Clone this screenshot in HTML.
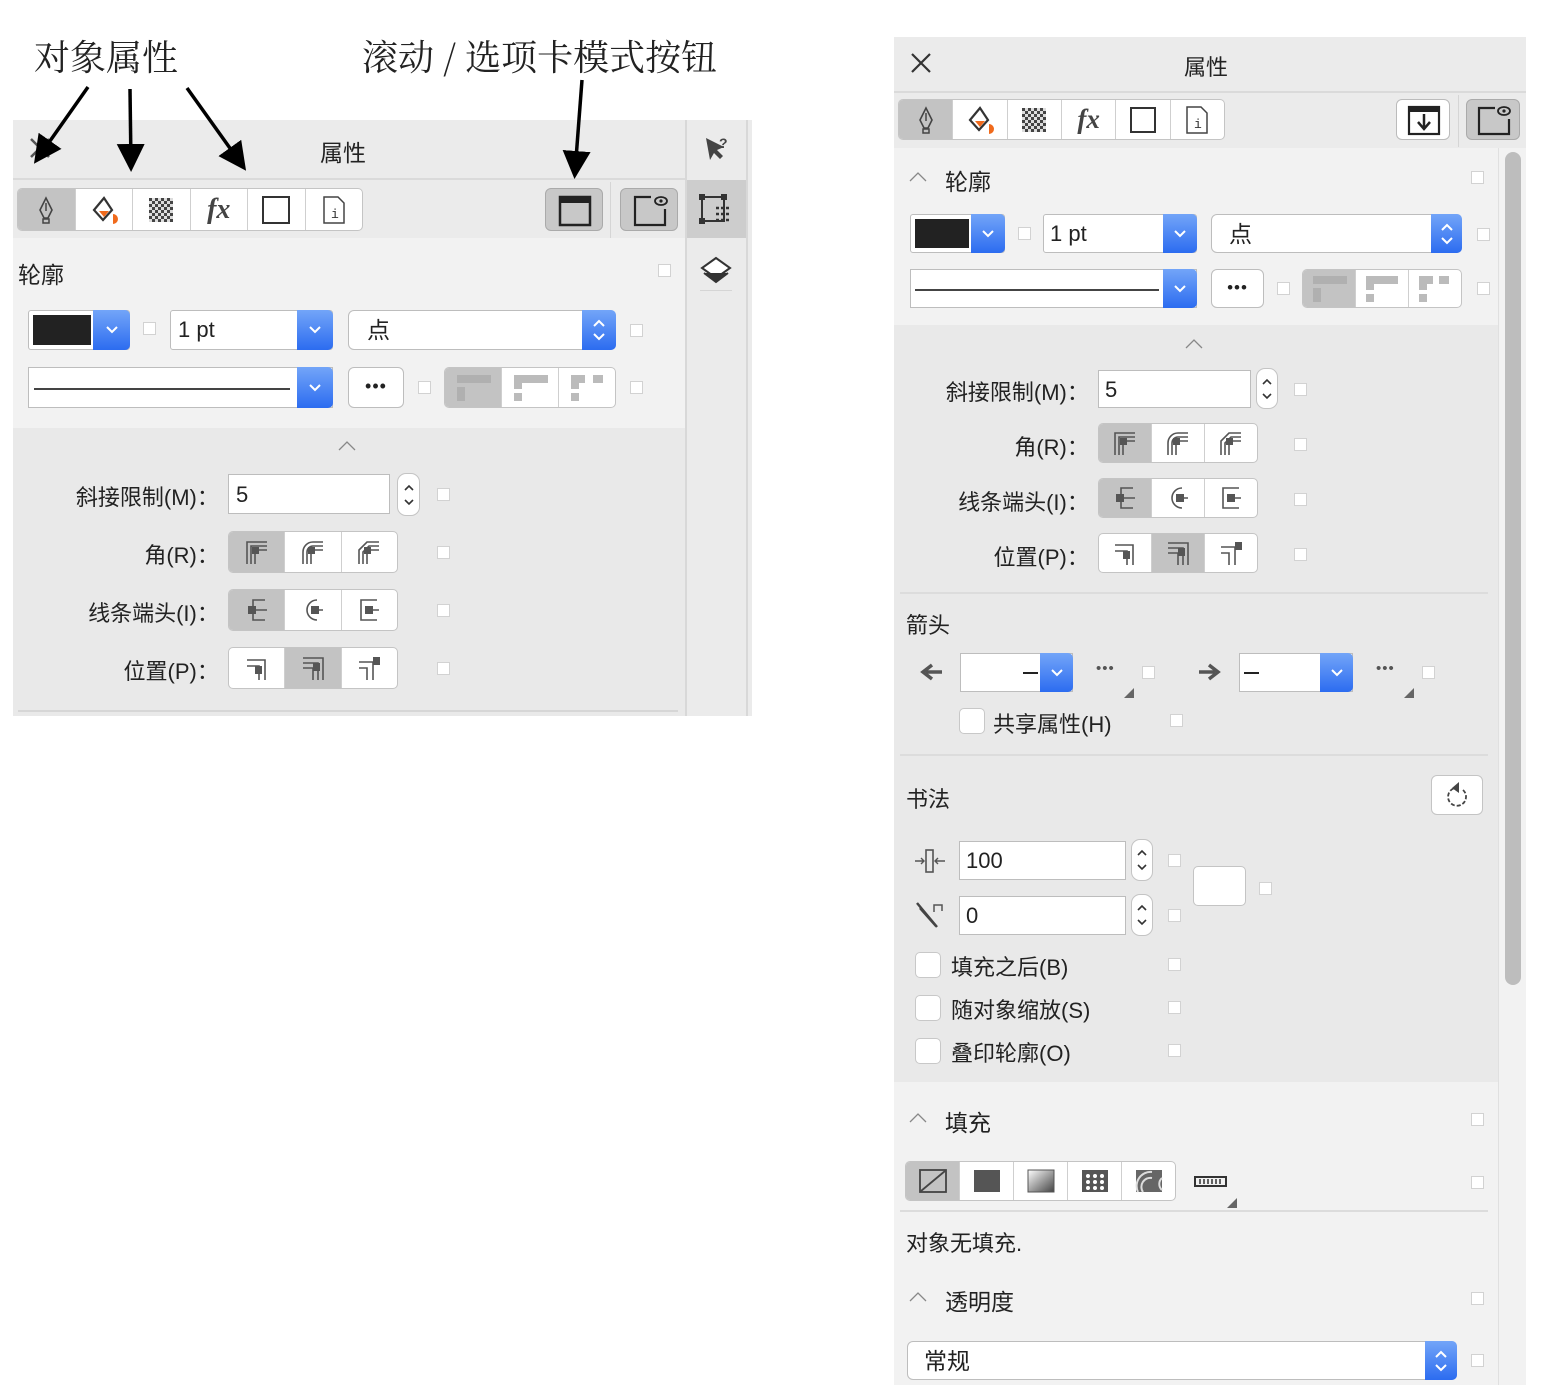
<!DOCTYPE html>
<html><head><meta charset="utf-8">
<style>
*{box-sizing:border-box;margin:0;padding:0}
body{width:1541px;height:1395px;background:#fff;position:relative;overflow:hidden;font-family:"Liberation Sans","Noto Sans CJK SC",sans-serif;color:#222}
.a{position:absolute}
.chk{position:absolute;width:13px;height:13px;background:#fff;border:1px solid #d2d2d2}
.box{position:absolute;background:#fff;border:1px solid #bdbdbd;border-radius:3px}
.blue{position:absolute;top:-1px;bottom:-1px;right:-1px;background:linear-gradient(#73a5f8,#2c6cf0);border-radius:0 5px 5px 0;display:flex;align-items:center;justify-content:center}
.seg{position:absolute;background:#fff;border:1px solid #c4c4c4;border-radius:5px;display:flex;overflow:hidden}
.seg>div{flex:1;border-left:1px solid #cfcfcf;display:flex;align-items:center;justify-content:center}
.seg>div:first-child{border-left:none}
.seg>.on{background:#c3c3c3}
.lbl{position:absolute;font-size:21px;white-space:nowrap}
.rlbl{position:absolute;font-size:22px;white-space:pre;text-align:right}
.spin{position:absolute;background:#fff;border:1px solid #c4c4c4;border-radius:9px;display:flex;align-items:center;justify-content:center}
.cb{position:absolute;width:26px;height:26px;background:#fff;border:1px solid #c8c8c8;border-radius:5px}
.hline{position:absolute;height:2px;background:#dcdcdc}
</style></head><body>

<div class="a" style="left:34px;top:30px;font-size:36px;font-family:'Noto Serif CJK SC','Noto Sans CJK SC',serif">对象属性</div>
<div class="a" style="left:362px;top:30px;font-size:36px;font-family:'Noto Serif CJK SC','Noto Sans CJK SC',serif">滚动 / 选项卡模式按钮</div>

<div class="a" style="left:13px;top:120px;width:739px;height:596px;background:#ebebeb"></div>
<div class="a" style="left:13px;top:178px;width:673px;height:2px;background:#dadada"></div>
<div class="a" style="left:13px;top:238px;width:673px;height:190px;background:#f2f2f2"></div>
<div class="a" style="left:13px;top:428px;width:673px;height:288px;background:#e9e9e9"></div>
<div class="a" style="left:685px;top:120px;width:2px;height:596px;background:#d8d8d8"></div>
<div class="a" style="left:746px;top:120px;width:2px;height:596px;background:#d8d8d8"></div>
<div class="a" style="left:687px;top:180px;width:59px;height:58px;background:#cdcdcd"></div>
<div class="a" style="left:700px;top:290px;width:32px;height:1px;background:#d5d5d5"></div>
<div class="a" style="left:610px;top:182px;width:1px;height:56px;background:#d5d5d5"></div>
<div class="a" style="left:320px;top:134px;font-size:23px">属性</div>
<svg class="a" style="left:28px;top:136px" width="24" height="24"><path d="M3 3L21 21M21 3L3 21" stroke="#555" stroke-width="2.5"/></svg>

<div class="seg" style="left:17px;top:188px;width:346px;height:43px">
 <div class="on"><svg width="24" height="30"><path d="M12 3L6 15l4 8h4l4-8z" fill="none" stroke="#444" stroke-width="1.6"/><path d="M12 8v8" stroke="#444" stroke-width="1.5"/><rect x="9" y="24" width="6" height="4" fill="none" stroke="#444" stroke-width="1.5"/></svg></div>
 <div><svg width="30" height="30"><path d="M15 3L5 15l9 10 9-10z" fill="none" stroke="#333" stroke-width="2.2"/><path d="M10 16h10l-5 6z" fill="#f06a1c"/><path d="M24 19a5 5 0 0 1 0 10z" fill="#f06a1c"/></svg></div>
 <div><svg width="24" height="24"><defs><pattern id="ck" width="6" height="6" patternUnits="userSpaceOnUse"><rect width="3" height="3" fill="#444"/><rect x="3" y="3" width="3" height="3" fill="#444"/><rect x="3" width="3" height="3" fill="#ddd"/><rect y="3" width="3" height="3" fill="#ddd"/></pattern></defs><rect x="0" y="0" width="24" height="24" fill="url(#ck)"/></svg></div>
 <div><span style="font-family:'Liberation Serif',serif;font-style:italic;font-size:28px;color:#444;font-weight:bold">fx</span></div>
 <div><svg width="30" height="30"><rect x="2" y="2" width="26" height="26" fill="none" stroke="#333" stroke-width="2"/></svg></div>
 <div><svg width="24" height="30"><path d="M2 2h14l6 6v20H2z" fill="none" stroke="#444" stroke-width="1.5"/><text x="9" y="23" font-size="13" font-family="Liberation Mono" fill="#333">i</text></svg></div>
</div>
<div class="a" style="left:545px;top:188px;width:58px;height:43px;background:#c8c8c8;border:1px solid #aaa;border-radius:6px"><svg width="58" height="43"><rect x="14" y="8" width="30" height="28" fill="none" stroke="#222" stroke-width="2.5"/><rect x="14" y="8" width="30" height="6" fill="#222"/></svg></div>
<div class="a" style="left:620px;top:188px;width:58px;height:43px;background:#c8c8c8;border:1px solid #aaa;border-radius:6px"><svg width="58" height="43"><path d="M30 8H14v28h30V20" fill="none" stroke="#222" stroke-width="2.2"/><ellipse cx="40" cy="12" rx="6" ry="4" fill="none" stroke="#222" stroke-width="1.8"/><circle cx="40" cy="12" r="1.6" fill="#222"/></svg></div>
<svg class="a" style="left:702px;top:134px" width="30" height="30"><path d="M4 4l4 22 4-7 6 6 3-3-6-6 7-3z" fill="#444"/><text x="17" y="14" font-size="14" font-weight="bold" fill="#444" font-family="Liberation Sans">?</text></svg>
<svg class="a" style="left:698px;top:193px" width="34" height="34"><rect x="4" y="4" width="22" height="24" fill="none" stroke="#333" stroke-width="2"/><rect x="1" y="1" width="6" height="6" fill="#333"/><rect x="23" y="1" width="6" height="6" fill="#333"/><rect x="1" y="25" width="6" height="6" fill="#333"/><path d="M18 15h14M18 21h14M18 27h14" stroke="#333" stroke-width="2.5" stroke-dasharray="3 2"/></svg>
<svg class="a" style="left:700px;top:256px" width="32" height="30"><path d="M16 2L2 12l14 10 14-10z" fill="#fff" stroke="#333" stroke-width="2"/><path d="M4 17l12 9 12-9" fill="#333" stroke="#333" stroke-width="2"/></svg>

<div class="lbl" style="left:18px;top:256px;font-size:23px">轮廓</div>
<div class="chk" style="left:658px;top:264px"></div>

<div class="box" style="left:28px;top:310px;width:102px;height:40px"><div class="a" style="left:4px;top:4px;width:58px;height:30px;background:#222"></div><div class="blue" style="width:37px"><svg width="14" height="10"><polyline points="2,2 7,7 12,2" fill="none" stroke="#fff" stroke-width="2"/></svg></div></div>
<div class="chk" style="left:143px;top:322px"></div>
<div class="box" style="left:170px;top:310px;width:163px;height:40px"><span class="a" style="left:7px;top:6px;font-size:22px">1 pt</span><div class="blue" style="width:36px"><svg width="14" height="10"><polyline points="2,2 7,7 12,2" fill="none" stroke="#fff" stroke-width="2"/></svg></div></div>
<div class="box" style="left:348px;top:310px;width:268px;height:40px;border-radius:6px"><span class="a" style="left:18px;top:0px;font-size:23px">点</span><div class="blue" style="width:34px"><svg width="14" height="26"><polyline points="2,9 7,4 12,9" fill="none" stroke="#fff" stroke-width="2"/><polyline points="2,17 7,22 12,17" fill="none" stroke="#fff" stroke-width="2"/></svg></div></div>
<div class="chk" style="left:630px;top:324px"></div>
<div class="box" style="left:28px;top:367px;width:305px;height:41px;border-radius:0"><div class="a" style="left:5px;top:20px;width:256px;height:1.5px;background:#444"></div><div class="blue" style="width:36px"><svg width="14" height="10"><polyline points="2,2 7,7 12,2" fill="none" stroke="#fff" stroke-width="2"/></svg></div></div>
<div class="box" style="left:348px;top:367px;width:56px;height:41px;border-radius:6px;text-align:center;font-size:18px;line-height:36px;letter-spacing:1px">•••</div>
<div class="chk" style="left:418px;top:381px"></div>
<div class="seg" style="left:444px;top:367px;width:172px;height:41px">
 <div style="background:#c3c3c3"><svg width="36" height="30"><rect x="2" y="2" width="34" height="8" fill="#b0b0b0"/><rect x="2" y="14" width="8" height="14" fill="#b0b0b0"/></svg></div>
 <div><svg width="36" height="30"><rect x="2" y="2" width="34" height="8" fill="#bbb"/><rect x="2" y="2" width="8" height="14" fill="#bbb"/><rect x="2" y="20" width="8" height="8" fill="#bbb"/></svg></div>
 <div><svg width="36" height="30"><rect x="2" y="2" width="14" height="8" fill="#bbb"/><rect x="24" y="2" width="10" height="8" fill="#bbb"/><rect x="2" y="2" width="8" height="14" fill="#bbb"/><rect x="2" y="20" width="8" height="8" fill="#bbb"/></svg></div>
</div>
<div class="chk" style="left:630px;top:381px"></div>

<svg class="a" style="left:337px;top:440px" width="20" height="12"><polyline points="2,10 10,2 18,10" fill="none" stroke="#888" stroke-width="1.3"/></svg>

<div class="rlbl" style="left:10px;width:215px;top:480px">斜接限制(M)： </div>
<div class="box" style="left:228px;top:474px;width:162px;height:40px;border-radius:0"><span class="a" style="left:7px;top:7px;font-size:22px">5</span></div>
<div class="spin" style="left:397px;top:473px;width:23px;height:43px"><svg width="12" height="26"><polyline points="2,8 6,4 10,8" fill="none" stroke="#333" stroke-width="1.6"/><polyline points="2,18 6,22 10,18" fill="none" stroke="#333" stroke-width="1.6"/></svg></div>
<div class="chk" style="left:437px;top:488px"></div>

<div class="rlbl" style="left:10px;width:215px;top:538px">角(R)： </div>
<div class="seg" style="left:228px;top:531px;width:170px;height:42px">
 <div class="on"><svg width="28" height="28"><path d="M4 26V4h20M8 26V8h16M12 26V12h12" fill="none" stroke="#555" stroke-width="1.6"/><rect x="9" y="9" width="7" height="7" fill="#555"/></svg></div>
 <div><svg width="28" height="28"><path d="M4 26V14a10 10 0 0 1 10-10h10M8 26V14a6 6 0 0 1 6-6h10M12 26V12h12" fill="none" stroke="#555" stroke-width="1.6"/><rect x="9" y="9" width="7" height="7" fill="#555"/></svg></div>
 <div><svg width="28" height="28"><path d="M4 26V12l8-8h12M8 26V14l6-6h10M12 26V12h12" fill="none" stroke="#555" stroke-width="1.6"/><rect x="9" y="9" width="7" height="7" fill="#555"/></svg></div>
</div>
<div class="chk" style="left:437px;top:546px"></div>

<div class="rlbl" style="left:10px;width:215px;top:596px">线条端头(I)： </div>
<div class="seg" style="left:228px;top:589px;width:170px;height:42px">
 <div class="on"><svg width="28" height="28"><path d="M22 4H10v20h12M10 14h14" fill="none" stroke="#555" stroke-width="1.6"/><rect x="5" y="10" width="8" height="8" fill="#555"/></svg></div>
 <div><svg width="28" height="28"><path d="M18 4a10 10 0 0 0 0 20M14 14h10" fill="none" stroke="#555" stroke-width="1.6"/><rect x="12" y="10" width="8" height="8" fill="#555"/></svg></div>
 <div><svg width="28" height="28"><path d="M22 4H6v20h16M10 14h14" fill="none" stroke="#555" stroke-width="1.6"/><rect x="10" y="10" width="8" height="8" fill="#555"/></svg></div>
</div>
<div class="chk" style="left:437px;top:604px"></div>

<div class="rlbl" style="left:10px;width:215px;top:654px">位置(P)： </div>
<div class="seg" style="left:228px;top:647px;width:170px;height:42px">
 <div><svg width="28" height="28"><path d="M4 6h18v20M4 12h12v14" fill="none" stroke="#555" stroke-width="1.6"/><rect x="12" y="12" width="7" height="8" fill="#555"/></svg></div>
 <div class="on"><svg width="28" height="28"><path d="M4 4h20v22M4 9h15v17M4 14h10v12" fill="none" stroke="#555" stroke-width="1.6"/><rect x="14" y="9" width="7" height="8" fill="#555"/></svg></div>
 <div><svg width="28" height="28"><path d="M4 8h14v18M4 14h8v12" fill="none" stroke="#555" stroke-width="1.6"/><rect x="18" y="3" width="7" height="8" fill="#555"/></svg></div>
</div>
<div class="chk" style="left:437px;top:662px"></div>
<div class="a" style="left:18px;top:710px;width:660px;height:2px;background:#d6d6d6"></div>

<svg class="a" style="left:0;top:0" width="760" height="200">
<defs><marker id="ah" markerWidth="8" markerHeight="8" refX="6" refY="4" orient="auto" markerUnits="strokeWidth"><path d="M0,0L8,4L0,8z" fill="#000"/></marker></defs>
<g stroke="#000" stroke-width="3.5" fill="none">
<line x1="88" y1="87" x2="38" y2="158" marker-end="url(#ah)"/>
<line x1="130" y1="89" x2="131" y2="165" marker-end="url(#ah)"/>
<line x1="187" y1="88" x2="242" y2="165" marker-end="url(#ah)"/>
<line x1="582" y1="80" x2="575" y2="172" marker-end="url(#ah)"/>
</g></svg>

<!-- RIGHT PANEL -->
<div class="a" style="left:894px;top:37px;width:632px;height:1348px;background:#ebebeb"></div>
<div class="a" style="left:894px;top:91px;width:632px;height:2px;background:#dadada"></div>
<div class="a" style="left:894px;top:148px;width:604px;height:177px;background:#f2f2f2"></div>
<div class="a" style="left:894px;top:325px;width:604px;height:757px;background:#e9e9e9"></div>
<div class="a" style="left:894px;top:1082px;width:604px;height:303px;background:#f2f2f2"></div>
<div class="a" style="left:1498px;top:148px;width:28px;height:1237px;background:#f2f2f2;border-left:1px solid #e0e0e0"></div>
<div class="a" style="left:1505px;top:152px;width:16px;height:833px;background:#bdbdbd;border-radius:8px"></div>
<div class="a" style="left:1458px;top:95px;width:1px;height:52px;background:#d5d5d5"></div>
<svg class="a" style="left:910px;top:52px" width="22" height="22"><path d="M2 2L20 20M20 2L2 20" stroke="#333" stroke-width="2.2"/></svg>
<div class="a" style="left:1184px;top:50px;font-size:22px">属性</div>

<div class="seg" style="left:898px;top:99px;width:327px;height:41px">
 <div class="on"><svg width="24" height="30"><path d="M12 3L6 15l4 8h4l4-8z" fill="none" stroke="#444" stroke-width="1.6"/><path d="M12 8v8" stroke="#444" stroke-width="1.5"/><rect x="9" y="24" width="6" height="4" fill="none" stroke="#444" stroke-width="1.5"/></svg></div>
 <div><svg width="30" height="30"><path d="M15 3L5 15l9 10 9-10z" fill="none" stroke="#333" stroke-width="2.2"/><path d="M10 16h10l-5 6z" fill="#f06a1c"/><path d="M24 19a5 5 0 0 1 0 10z" fill="#f06a1c"/></svg></div>
 <div><svg width="24" height="24"><rect x="0" y="0" width="24" height="24" fill="url(#ck)"/></svg></div>
 <div><span style="font-family:'Liberation Serif',serif;font-style:italic;font-size:27px;color:#444;font-weight:bold">fx</span></div>
 <div><svg width="28" height="28"><rect x="2" y="2" width="24" height="24" fill="none" stroke="#333" stroke-width="2"/></svg></div>
 <div><svg width="24" height="30"><path d="M2 2h14l6 6v20H2z" fill="none" stroke="#444" stroke-width="1.5"/><text x="9" y="23" font-size="13" font-family="Liberation Mono" fill="#333">i</text></svg></div>
</div>
<div class="a" style="left:1396px;top:99px;width:54px;height:41px;background:#fff;border:1px solid #bbb;border-radius:6px"><svg width="54" height="41"><rect x="12" y="7" width="30" height="27" fill="none" stroke="#222" stroke-width="2.2"/><rect x="12" y="7" width="30" height="5" fill="#222"/><path d="M27 14v14M21 22l6 7 6-7" fill="none" stroke="#222" stroke-width="2.5"/></svg></div>
<div class="a" style="left:1466px;top:99px;width:54px;height:41px;background:#c8c8c8;border:1px solid #aaa;border-radius:6px"><svg width="54" height="41"><path d="M28 8H12v26h30V19" fill="none" stroke="#222" stroke-width="2.2"/><ellipse cx="37" cy="11" rx="6" ry="4" fill="none" stroke="#222" stroke-width="1.8"/><circle cx="37" cy="11" r="1.6" fill="#222"/></svg></div>

<svg class="a" style="left:908px;top:171px" width="20" height="12"><polyline points="2,10 10,2 18,10" fill="none" stroke="#888" stroke-width="1.3"/></svg>
<div class="lbl" style="left:945px;top:163px;font-size:23px">轮廓</div>
<div class="chk" style="left:1471px;top:171px"></div>

<div class="box" style="left:910px;top:214px;width:95px;height:39px"><div class="a" style="left:4px;top:4px;width:54px;height:29px;background:#222"></div><div class="blue" style="width:34px"><svg width="14" height="10"><polyline points="2,2 7,7 12,2" fill="none" stroke="#fff" stroke-width="2"/></svg></div></div>
<div class="chk" style="left:1018px;top:227px"></div>
<div class="box" style="left:1043px;top:214px;width:154px;height:39px"><span class="a" style="left:6px;top:6px;font-size:22px">1 pt</span><div class="blue" style="width:34px"><svg width="14" height="10"><polyline points="2,2 7,7 12,2" fill="none" stroke="#fff" stroke-width="2"/></svg></div></div>
<div class="box" style="left:1211px;top:214px;width:251px;height:39px;border-radius:6px"><span class="a" style="left:17px;top:0px;font-size:23px">点</span><div class="blue" style="width:31px"><svg width="14" height="26"><polyline points="2,9 7,4 12,9" fill="none" stroke="#fff" stroke-width="2"/><polyline points="2,17 7,22 12,17" fill="none" stroke="#fff" stroke-width="2"/></svg></div></div>
<div class="chk" style="left:1477px;top:228px"></div>
<div class="box" style="left:910px;top:269px;width:287px;height:39px;border-radius:0"><div class="a" style="left:4px;top:19px;width:244px;height:1.5px;background:#444"></div><div class="blue" style="width:34px"><svg width="14" height="10"><polyline points="2,2 7,7 12,2" fill="none" stroke="#fff" stroke-width="2"/></svg></div></div>
<div class="box" style="left:1211px;top:269px;width:53px;height:39px;border-radius:6px;text-align:center;font-size:17px;line-height:35px;letter-spacing:1px">•••</div>
<div class="chk" style="left:1277px;top:282px"></div>
<div class="seg" style="left:1302px;top:269px;width:160px;height:39px">
 <div style="background:#c3c3c3"><svg width="36" height="30"><rect x="2" y="2" width="34" height="8" fill="#b0b0b0"/><rect x="2" y="14" width="8" height="14" fill="#b0b0b0"/></svg></div>
 <div><svg width="36" height="30"><rect x="2" y="2" width="32" height="8" fill="#bbb"/><rect x="2" y="2" width="8" height="14" fill="#bbb"/><rect x="2" y="20" width="8" height="8" fill="#bbb"/></svg></div>
 <div><svg width="36" height="30"><rect x="2" y="2" width="14" height="8" fill="#bbb"/><rect x="22" y="2" width="10" height="8" fill="#bbb"/><rect x="2" y="2" width="8" height="14" fill="#bbb"/><rect x="2" y="20" width="8" height="8" fill="#bbb"/></svg></div>
</div>
<div class="chk" style="left:1477px;top:282px"></div>

<svg class="a" style="left:1184px;top:338px" width="20" height="12"><polyline points="2,10 10,2 18,10" fill="none" stroke="#888" stroke-width="1.3"/></svg>

<div class="rlbl" style="left:890px;width:205px;top:375px">斜接限制(M)： </div>
<div class="box" style="left:1098px;top:370px;width:153px;height:38px;border-radius:0"><span class="a" style="left:6px;top:6px;font-size:22px">5</span></div>
<div class="spin" style="left:1256px;top:368px;width:22px;height:41px"><svg width="12" height="26"><polyline points="2,8 6,4 10,8" fill="none" stroke="#333" stroke-width="1.6"/><polyline points="2,18 6,22 10,18" fill="none" stroke="#333" stroke-width="1.6"/></svg></div>
<div class="chk" style="left:1294px;top:383px"></div>

<div class="rlbl" style="left:890px;width:205px;top:430px">角(R)： </div>
<div class="seg" style="left:1098px;top:423px;width:160px;height:40px">
 <div class="on"><svg width="28" height="28"><path d="M4 26V4h20M8 26V8h16M12 26V12h12" fill="none" stroke="#555" stroke-width="1.6"/><rect x="9" y="9" width="7" height="7" fill="#555"/></svg></div>
 <div><svg width="28" height="28"><path d="M4 26V14a10 10 0 0 1 10-10h10M8 26V14a6 6 0 0 1 6-6h10M12 26V12h12" fill="none" stroke="#555" stroke-width="1.6"/><rect x="9" y="9" width="7" height="7" fill="#555"/></svg></div>
 <div><svg width="28" height="28"><path d="M4 26V12l8-8h12M8 26V14l6-6h10M12 26V12h12" fill="none" stroke="#555" stroke-width="1.6"/><rect x="9" y="9" width="7" height="7" fill="#555"/></svg></div>
</div>
<div class="chk" style="left:1294px;top:438px"></div>

<div class="rlbl" style="left:890px;width:205px;top:485px">线条端头(I)： </div>
<div class="seg" style="left:1098px;top:478px;width:160px;height:40px">
 <div class="on"><svg width="28" height="28"><path d="M22 4H10v20h12M10 14h14" fill="none" stroke="#555" stroke-width="1.6"/><rect x="5" y="10" width="8" height="8" fill="#555"/></svg></div>
 <div><svg width="28" height="28"><path d="M18 4a10 10 0 0 0 0 20M14 14h10" fill="none" stroke="#555" stroke-width="1.6"/><rect x="12" y="10" width="8" height="8" fill="#555"/></svg></div>
 <div><svg width="28" height="28"><path d="M22 4H6v20h16M10 14h14" fill="none" stroke="#555" stroke-width="1.6"/><rect x="10" y="10" width="8" height="8" fill="#555"/></svg></div>
</div>
<div class="chk" style="left:1294px;top:493px"></div>

<div class="rlbl" style="left:890px;width:205px;top:540px">位置(P)： </div>
<div class="seg" style="left:1098px;top:533px;width:160px;height:40px">
 <div><svg width="28" height="28"><path d="M4 6h18v20M4 12h12v14" fill="none" stroke="#555" stroke-width="1.6"/><rect x="12" y="12" width="7" height="8" fill="#555"/></svg></div>
 <div class="on"><svg width="28" height="28"><path d="M4 4h20v22M4 9h15v17M4 14h10v12" fill="none" stroke="#555" stroke-width="1.6"/><rect x="14" y="9" width="7" height="8" fill="#555"/></svg></div>
 <div><svg width="28" height="28"><path d="M4 8h14v18M4 14h8v12" fill="none" stroke="#555" stroke-width="1.6"/><rect x="18" y="3" width="7" height="8" fill="#555"/></svg></div>
</div>
<div class="chk" style="left:1294px;top:548px"></div>

<div class="hline" style="left:900px;top:592px;width:588px"></div>
<div class="lbl" style="left:906px;top:608px;font-size:22px">箭头</div>
<svg class="a" style="left:918px;top:662px" width="26" height="20"><path d="M24 10H8M14 3L5 10l9 7" fill="none" stroke="#555" stroke-width="3.5"/></svg>
<div class="box" style="left:960px;top:653px;width:113px;height:39px;border-radius:0"><div class="a" style="left:62px;top:18px;width:15px;height:2px;background:#222"></div><div class="blue" style="width:33px"><svg width="14" height="10"><polyline points="2,2 7,7 12,2" fill="none" stroke="#fff" stroke-width="2"/></svg></div></div>
<div class="a" style="left:1096px;top:660px;font-size:15px;color:#555;letter-spacing:1px">•••</div>
<svg class="a" style="left:1124px;top:688px" width="10" height="10"><path d="M10 0V10H0z" fill="#666"/></svg>
<div class="chk" style="left:1142px;top:666px"></div>
<svg class="a" style="left:1197px;top:662px" width="26" height="20"><path d="M2 10h16M12 3l9 7-9 7" fill="none" stroke="#555" stroke-width="3.5"/></svg>
<div class="box" style="left:1239px;top:653px;width:114px;height:39px;border-radius:0"><div class="a" style="left:4px;top:18px;width:15px;height:2px;background:#222"></div><div class="blue" style="width:33px"><svg width="14" height="10"><polyline points="2,2 7,7 12,2" fill="none" stroke="#fff" stroke-width="2"/></svg></div></div>
<div class="a" style="left:1376px;top:660px;font-size:15px;color:#555;letter-spacing:1px">•••</div>
<svg class="a" style="left:1404px;top:688px" width="10" height="10"><path d="M10 0V10H0z" fill="#666"/></svg>
<div class="chk" style="left:1422px;top:666px"></div>
<div class="cb" style="left:959px;top:708px"></div>
<div class="lbl" style="left:993px;top:707px;font-size:22px">共享属性(H)</div>
<div class="chk" style="left:1170px;top:714px"></div>

<div class="hline" style="left:900px;top:754px;width:588px"></div>
<div class="lbl" style="left:906px;top:782px;font-size:22px">书法</div>
<div class="a" style="left:1431px;top:775px;width:52px;height:40px;background:#fff;border:1px solid #c4c4c4;border-radius:6px"><svg width="52" height="40"><path d="M31 14a9 9 0 1 1-8-2" fill="none" stroke="#444" stroke-width="1.8" stroke-dasharray="4 2"/><path d="M20 12l7-6v11z" fill="#444"/></svg></div>

<svg class="a" style="left:913px;top:848px" width="34" height="26"><rect x="13" y="2" width="7" height="22" fill="none" stroke="#555" stroke-width="1.6"/><path d="M2 13h9M8 10l3 3-3 3M32 13h-10M25 10l-3 3 3 3" fill="none" stroke="#555" stroke-width="1.4"/></svg>
<div class="box" style="left:959px;top:841px;width:167px;height:39px;border-radius:0"><span class="a" style="left:6px;top:6px;font-size:22px">100</span></div>
<div class="spin" style="left:1131px;top:839px;width:22px;height:42px"><svg width="12" height="26"><polyline points="2,8 6,4 10,8" fill="none" stroke="#333" stroke-width="1.6"/><polyline points="2,18 6,22 10,18" fill="none" stroke="#333" stroke-width="1.6"/></svg></div>
<div class="chk" style="left:1168px;top:854px"></div>
<svg class="a" style="left:914px;top:900px" width="32" height="30"><path d="M3 3l20 24M6 8l16 18" stroke="#444" stroke-width="2.5"/><path d="M20 12V5h8v6" fill="none" stroke="#555" stroke-width="1.5"/></svg>
<div class="box" style="left:959px;top:896px;width:167px;height:39px;border-radius:0"><span class="a" style="left:6px;top:6px;font-size:22px">0</span></div>
<div class="spin" style="left:1131px;top:894px;width:22px;height:42px"><svg width="12" height="26"><polyline points="2,8 6,4 10,8" fill="none" stroke="#333" stroke-width="1.6"/><polyline points="2,18 6,22 10,18" fill="none" stroke="#333" stroke-width="1.6"/></svg></div>
<div class="chk" style="left:1168px;top:909px"></div>
<div class="a" style="left:1193px;top:866px;width:53px;height:40px;background:#fff;border:1px solid #c4c4c4;border-radius:5px"></div>
<div class="chk" style="left:1259px;top:882px"></div>

<div class="cb" style="left:915px;top:952px"></div>
<div class="lbl" style="left:951px;top:950px;font-size:22px">填充之后(B)</div>
<div class="chk" style="left:1168px;top:958px"></div>
<div class="cb" style="left:915px;top:995px"></div>
<div class="lbl" style="left:951px;top:993px;font-size:22px">随对象缩放(S)</div>
<div class="chk" style="left:1168px;top:1001px"></div>
<div class="cb" style="left:915px;top:1038px"></div>
<div class="lbl" style="left:951px;top:1036px;font-size:22px">叠印轮廓(O)</div>
<div class="chk" style="left:1168px;top:1044px"></div>

<svg class="a" style="left:908px;top:1112px" width="20" height="12"><polyline points="2,10 10,2 18,10" fill="none" stroke="#888" stroke-width="1.3"/></svg>
<div class="lbl" style="left:945px;top:1104px;font-size:23px">填充</div>
<div class="chk" style="left:1471px;top:1113px"></div>
<div class="seg" style="left:905px;top:1161px;width:271px;height:40px">
 <div class="on"><svg width="30" height="26"><rect x="2" y="2" width="26" height="22" fill="none" stroke="#444" stroke-width="1.8"/><path d="M3 23L27 3" stroke="#444" stroke-width="1.8"/></svg></div>
 <div><svg width="30" height="26"><rect x="2" y="2" width="26" height="22" fill="#555"/></svg></div>
 <div><svg width="30" height="26"><defs><linearGradient id="g1" x1="0" y1="0" x2="1" y2="1"><stop offset="0" stop-color="#fff"/><stop offset="1" stop-color="#444"/></linearGradient></defs><rect x="2" y="2" width="26" height="22" fill="url(#g1)" stroke="#555"/></svg></div>
 <div><svg width="30" height="26"><rect x="2" y="2" width="26" height="22" fill="#555"/><g fill="#fff"><circle cx="8" cy="8" r="2"/><circle cx="15" cy="8" r="2"/><circle cx="22" cy="8" r="2"/><circle cx="8" cy="14" r="2"/><circle cx="15" cy="14" r="2"/><circle cx="22" cy="14" r="2"/><circle cx="8" cy="20" r="2"/><circle cx="15" cy="20" r="2"/><circle cx="22" cy="20" r="2"/></g></svg></div>
 <div><svg width="30" height="26"><rect x="2" y="2" width="26" height="22" fill="#666"/><path d="M4 24a14 14 0 0 1 14-20M9 24a9 9 0 0 1 9-14M28 10a8 8 0 0 0 0 12" fill="none" stroke="#ddd" stroke-width="2"/></svg></div>
</div>
<svg class="a" style="left:1194px;top:1175px" width="34" height="14"><rect x="1" y="2" width="31" height="9" fill="none" stroke="#333" stroke-width="2"/><path d="M6 4v5M10 4v5M14 4v5M18 4v5M22 4v5M26 4v5" stroke="#333" stroke-width="1.5"/></svg>
<svg class="a" style="left:1227px;top:1198px" width="10" height="10"><path d="M10 0V10H0z" fill="#666"/></svg>
<div class="chk" style="left:1471px;top:1176px"></div>
<div class="hline" style="left:900px;top:1210px;width:588px"></div>
<div class="lbl" style="left:906px;top:1226px;font-size:22px">对象无填充.</div>

<svg class="a" style="left:908px;top:1291px" width="20" height="12"><polyline points="2,10 10,2 18,10" fill="none" stroke="#888" stroke-width="1.3"/></svg>
<div class="lbl" style="left:945px;top:1283px;font-size:23px">透明度</div>
<div class="chk" style="left:1471px;top:1292px"></div>
<div class="box" style="left:907px;top:1341px;width:550px;height:39px;border-radius:6px"><span class="a" style="left:16px;top:0px;font-size:23px">常规</span><div class="blue" style="width:32px"><svg width="14" height="26"><polyline points="2,9 7,4 12,9" fill="none" stroke="#fff" stroke-width="2"/><polyline points="2,17 7,22 12,17" fill="none" stroke="#fff" stroke-width="2"/></svg></div></div>
<div class="chk" style="left:1471px;top:1354px"></div>

</body></html>
